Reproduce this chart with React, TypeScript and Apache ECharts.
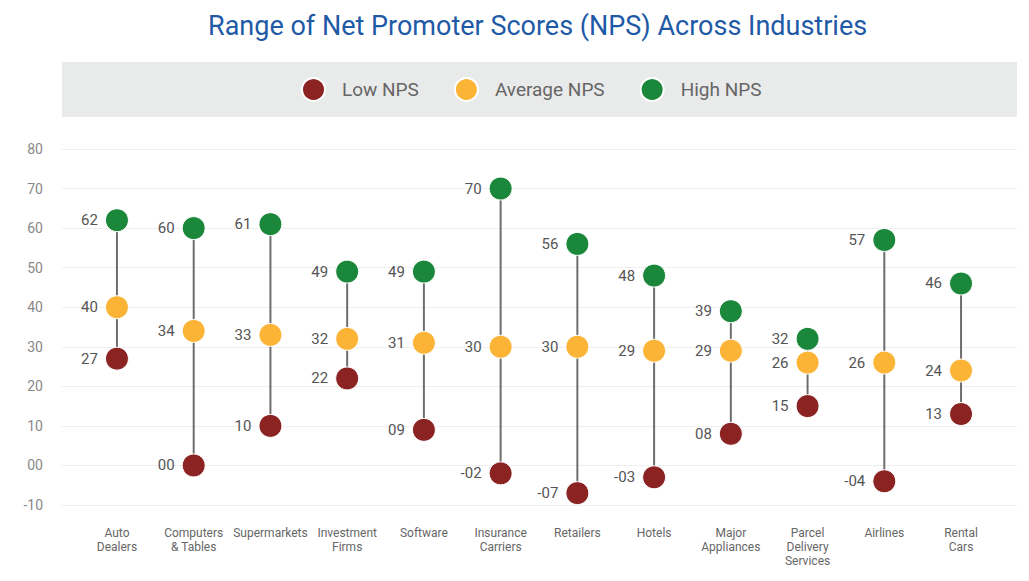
import React, { useEffect, useRef } from "react";
import * as echarts from "echarts";

const categories = [
  "Auto\nDealers",
  "Computers\n& Tables",
  "Supermarkets",
  "Investment\nFirms",
  "Software",
  "Insurance\nCarriers",
  "Retailers",
  "Hotels",
  "Major\nAppliances",
  "Parcel\nDelivery\nServices",
  "Airlines",
  "Rental\nCars",
];
const lowNPS = [27, 0, 10, 22, 9, -2, -7, -3, 8, 15, -4, 13];
const avgNPS = [40, 34, 33, 32, 31, 30, 30, 29, 29, 26, 26, 24];
const highNPS = [62, 60, 61, 49, 49, 70, 56, 48, 39, 32, 57, 46];
const yTicks = { min: -10, max: 80, interval: 10 };

const COLORS = { low: "#8c2323", avg: "#fbb435", high: "#1a873a" };
const FONT = "Roboto, 'Noto Sans', sans-serif";

const fmt = (v: number) => {
  const a = Math.abs(v);
  const s = a < 10 ? "0" + a : String(a);
  return v < 0 ? "-" + s : s;
};

export default function App() {
  const ref = useRef<HTMLDivElement>(null);
  useEffect(() => {
    if (!ref.current) return;
    const chart = echarts.init(ref.current, undefined, { renderer: "svg" });
    const dotSeries = (name: string, data: number[], color: string) => ({
      name,
      type: "scatter",
      xAxisIndex: 1,
      yAxisIndex: 1,
      data,
      symbol: "circle",
      symbolSize: 23,
      z: 5,
      itemStyle: { color, opacity: 1, borderColor: "#fff", borderWidth: 1 },
      label: {
        show: true,
        position: "left",
        distance: 7,
        formatter: (p: any) => fmt(p.value),
        color: "#555",
        fontSize: 15,
        fontFamily: FONT,
      },
    });
    chart.setOption({
      animation: false,
      backgroundColor: "#fff",
      title: {
        text: "Range of Net Promoter Scores (NPS) Across Industries",
        left: 203,
        top: 7,
        textStyle: { color: "#1f5aa6", fontSize: 27, fontWeight: "normal", fontFamily: FONT },
      },
      graphic: [
        {
          type: "rect",
          shape: { x: 62, y: 62, width: 955, height: 55 },
          style: { fill: "#e9eaea" },
          z: -10,
        },
      ],
      legend: {
        top: 72,
        left: 296,
        icon: "circle",
        itemWidth: 23,
        itemHeight: 23,
        itemGap: 35,
        data: ["Low NPS", "Average NPS", "High NPS"],
        itemStyle: { opacity: 1 },
        textStyle: { color: "#666", fontSize: 19, fontFamily: FONT, padding: [0, 0, 0, 12] },
      },
      grid: [
        { left: 62, right: 12, top: 149, bottom: 76 },
        { left: 78.6, right: 29.6, top: 149, bottom: 76 },
      ],
      xAxis: [
        { type: "value", gridIndex: 0, show: false, min: 0, max: 1 },
        {
          type: "category",
          gridIndex: 1,
          data: categories,
          boundaryGap: true,
          axisLine: { show: false },
          axisTick: { show: false },
          axisLabel: {
            interval: 0,
            margin: 21,
            color: "#666",
            fontSize: 12,
            lineHeight: 14,
            fontFamily: FONT,
          },
        },
      ],
      yAxis: [
        {
          type: "value",
          gridIndex: 0,
          ...yTicks,
          axisLine: { show: false },
          axisTick: { show: false },
          splitLine: { lineStyle: { color: "#efefef", width: 1 } },
          axisLabel: {
            margin: 19,
            color: "#888",
            fontSize: 14,
            fontFamily: FONT,
            formatter: (v: number) => fmt(v),
          },
        },
        {
          type: "value",
          gridIndex: 1,
          ...yTicks,
          show: false,
          splitLine: { show: false },
        },
      ],
      series: [
        {
          type: "custom",
          xAxisIndex: 1,
          yAxisIndex: 1,
          z: 1,
          silent: true,
          data: categories.map((_, i) => [i, lowNPS[i], highNPS[i]]),
          renderItem: (params: any, api: any) => {
            const p1 = api.coord([api.value(0), api.value(1)]);
            const p2 = api.coord([api.value(0), api.value(2)]);
            return {
              type: "line",
              shape: { x1: p1[0], y1: p1[1], x2: p2[0], y2: p2[1] },
              style: { stroke: "#6e6e6e", lineWidth: 2 },
            };
          },
        },
        dotSeries("Low NPS", lowNPS, COLORS.low),
        dotSeries("Average NPS", avgNPS, COLORS.avg),
        dotSeries("High NPS", highNPS, COLORS.high),
      ],
    });
    return () => chart.dispose();
  }, []);
  return <div ref={ref} style={{ width: 1029, height: 581, position: "absolute", left: 0, top: 0 }} />;
}
